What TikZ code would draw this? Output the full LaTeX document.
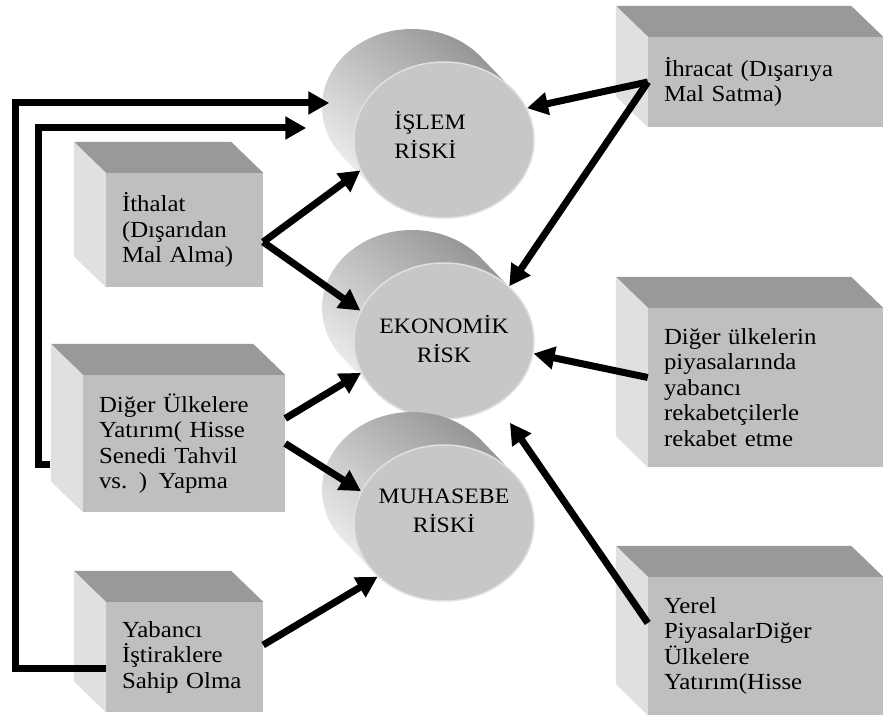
\documentclass[tikz,border=0pt]{standalone}
\usepackage{fontspec}
\setmainfont{Liberation Serif}[FakeStretch=1.08]
\usetikzlibrary{arrows.meta,shapes.geometric}
\begin{document}
\begin{tikzpicture}[x=1pt,y=1pt]
\tikzset{boite/.style={fill=black!25, inner xsep=16pt, inner ysep=0pt, align=left, font=\fontsize{23}{25.5}\selectfont},
dessus/.style={fill=black!40},
cote/.style={fill=black!12},
disque/.style={ellipse, fill=black!22, draw=black!12, line width=1.5pt, minimum width=180pt, minimum height=156pt, inner sep=0pt},
flanc/.style={top color=black!42, bottom color=black!8, shading angle=-40},
texte/.style={font=\fontsize{22}{29}\selectfont},
fleche/.style={line width=7pt, -{Triangle[length=21pt,width=22pt]}}}
\useasboundingbox (0,0) rectangle (885,718);
\coordinate (C1) at (444,578);
\coordinate (C2) at (444,377);
\coordinate (C3) at (444,195);
\shade[flanc] ([shift={(-32,33)}]C1) ellipse [x radius=90, y radius=78] ([shift={(68.9,50.1)}]C1) -- ++(-32,33) -- ++(-137.8,-100.2) -- ++(32,-33) -- cycle;
\node[disque] (R1) at (C1) {};
\shade[flanc] ([shift={(-32,33)}]C2) ellipse [x radius=90, y radius=78] ([shift={(68.9,50.1)}]C2) -- ++(-32,33) -- ++(-137.8,-100.2) -- ++(32,-33) -- cycle;
\node[disque] (R2) at (C2) {};
\shade[flanc] ([shift={(-32,33)}]C3) ellipse [x radius=90, y radius=78] ([shift={(68.9,50.1)}]C3) -- ++(-32,33) -- ++(-137.8,-100.2) -- ++(32,-33) -- cycle;
\node[disque] (R3) at (C3) {};
\node[texte, align=left] (T1) at ([shift={(-14,5)}]C1) {İŞLEM\\RİSKİ};
\node[texte, align=center] (T2) at ([shift={(0,2)}]C2) {EKONOMİK\\RİSK};
\node[texte, align=center] (T3) at ([shift={(0,12)}]C3) {MUHASEBE\\RİSKİ};
\node[boite, text width=125pt, minimum height=114pt] (B1) at (184.5,488) {İthalat\\(Dışarıdan\\Mal Alma)};
\node[boite, text width=170pt, minimum height=137pt] (B2) at (184,274.5) {Diğer Ülkelere\\Yatırım( Hisse\\Senedi Tahvil\\vs. ) Yapma};
\node[boite, text width=125pt, minimum height=110pt] (B3) at (184.5,61) {Yabancı\\İştiraklere\\Sahip Olma};
\node[boite, text width=203pt, minimum height=90pt] (B4) at (765.5,636) {İhracat (Dışarıya\\Mal Satma)};
\node[boite, text width=203pt, minimum height=159pt] (B5) at (765.5,330.5) {Diğer ülkelerin\\piyasalarında\\yabancı\\rekabetçilerle\\rekabet etme};
\node[boite, text width=203pt, minimum height=138pt] (B6) at (765.5,72) {Yerel\\PiyasalarDiğer\\Ülkelere\\Yatırım(Hisse};
\fill[dessus] (B1.north west) -- ++(-32,31) -- ([shift={(-32,31)}]B1.north east) -- (B1.north east) -- cycle;
\fill[cote] (B1.north west) -- ++(-32,31) -- ([shift={(-32,31)}]B1.south west) -- (B1.south west) -- cycle;
\fill[dessus] (B2.north west) -- ++(-32,31) -- ([shift={(-32,31)}]B2.north east) -- (B2.north east) -- cycle;
\fill[cote] (B2.north west) -- ++(-32,31) -- ([shift={(-32,31)}]B2.south west) -- (B2.south west) -- cycle;
\fill[dessus] (B3.north west) -- ++(-32,31) -- ([shift={(-32,31)}]B3.north east) -- (B3.north east) -- cycle;
\fill[cote] (B3.north west) -- ++(-32,31) -- ([shift={(-32,31)}]B3.south west) -- (B3.south west) -- cycle;
\fill[dessus] (B4.north west) -- ++(-32,31) -- ([shift={(-32,31)}]B4.north east) -- (B4.north east) -- cycle;
\fill[cote] (B4.north west) -- ++(-32,31) -- ([shift={(-32,31)}]B4.south west) -- (B4.south west) -- cycle;
\fill[dessus] (B5.north west) -- ++(-32,31) -- ([shift={(-32,31)}]B5.north east) -- (B5.north east) -- cycle;
\fill[cote] (B5.north west) -- ++(-32,31) -- ([shift={(-32,31)}]B5.south west) -- (B5.south west) -- cycle;
\fill[dessus] (B6.north west) -- ++(-32,31) -- ([shift={(-32,31)}]B6.north east) -- (B6.north east) -- cycle;
\fill[cote] (B6.north west) -- ++(-32,31) -- ([shift={(-32,31)}]B6.south west) -- (B6.south west) -- cycle;
\coordinate (L1) at (15,615);
\coordinate (L2) at (38,590);
\draw[fleche] ([yshift=-11pt]B3.west) -| (L1) -- ([shift={(-24,37)}]R1.west);
\draw[fleche] ([shift={(-33,-21)}]B2.west) -| (L2) -- ([shift={(-47,12)}]R1.west);
\draw[fleche] ([yshift=-12pt]B1.east) -- (R1.200);
\draw[fleche] ([yshift=-12pt]B1.east) -- (R2.160);
\draw[fleche] (B4.west) -- (R1.21);
\draw[fleche] (B4.west) -- (R2.40);
\draw[fleche] ([yshift=10pt]B5.west) -- (R2.-8);
\draw[fleche, shorten >=22pt] ([yshift=23pt]B6.west) -- (R2.-50);
\draw[fleche] ([yshift=25pt]B2.east) -- (R2.201);
\draw[fleche] (B2.east) -- (R3.159);
\draw[fleche] ([yshift=12pt]B3.east) -- (R3.219);
\end{tikzpicture}
\end{document}
